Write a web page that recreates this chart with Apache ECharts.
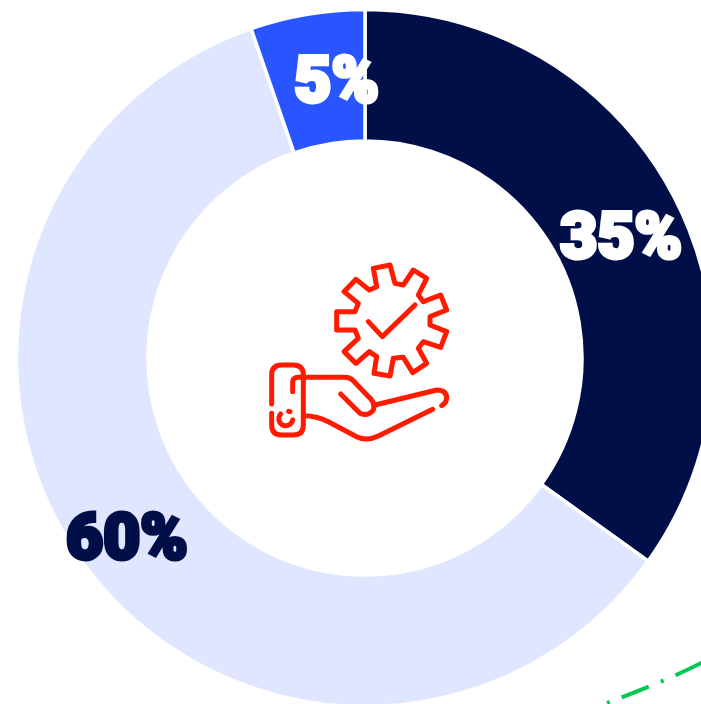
<!DOCTYPE html>
<html>
<head>
<meta charset="utf-8">
<style>
  html, body { margin: 0; padding: 0; background: #fff; }
  #chart { width: 701px; height: 704px; }
</style>
<script src="https://cdn.jsdelivr.net/npm/echarts@6/dist/echarts.min.js"></script>
</head>
<body>
<div id="chart"></div>
<script>
const categories = ['A', 'B', 'C'];
const values = [34.9, 59.8, 5.3];
const labels = ['35%', '60%', '5%'];
const sliceColors = ['#000F47', '#E0E6FF', '#2855FF'];
const labelColors = ['#FFFFFF', '#000F47', '#FFFFFF'];
const labelOffsets = [[2, 15], [-9, 14], [19, 10]];

// icon outlines, traced in a 3x space and scaled down by the group below
const gearPath = 'M370,55 L420,45 L435,100 L460,105 L490,60 L530,85 L505,135 L520,155 L572,135 L590,180 L540,200 L540,225 L590,245 L572,292 L520,275 L505,295 L530,340 L488,368 L460,322 L430,325 L420,378 L372,370 L380,320 L358,305 L318,340 L282,305 L325,265 L315,240 L260,240 L260,185 L315,185 L325,160 L282,125 L318,88 L358,120 L380,110 Z';
const checkPath = 'M355,215 L397,260 L495,165';
const cuffPath = 'M65,462 L65,375 Q65,345 95,345 L130,345 Q160,345 160,375 L160,525 Q160,555 130,555 L95,555 Q65,555 65,525 L65,490';
const buttonPath = 'M128,510 A21,21 0 1 1 92,492 M116,484 L120,485';
const palmPath = 'M128,425 L128,397 Q128,382 145,382 L285,382 Q300,382 310,392 L365,450 Q375,465 370,480 Q355,500 330,490 L272,432';
const fingerPath = 'M375,465 L560,420 Q590,420 590,445 Q588,460 575,467';
const lowerPath = 'M160,497 Q200,497 235,515 L320,560 Q350,575 385,558 L548,478';
const iconPaths = [gearPath, checkPath, cuffPath, buttonPath, palmPath, fingerPath, lowerPath];

// graphic has no plain 'path' element, so register each outline as a shape
iconPaths.forEach((p, i) => {
  echarts.graphic.registerShape('iconPart' + i, echarts.graphic.extendPath(p, {}));
});

const chart = echarts.init(document.getElementById('chart'));

chart.setOption({
  animation: false,
  series: [
    {
      type: 'pie',
      center: [365, 358],
      radius: [217, 348.5],
      startAngle: 90,
      clockwise: true,
      silent: true,
      itemStyle: { borderColor: '#fff', borderWidth: 3.5 },
      labelLine: { show: false },
      data: categories.map((name, i) => ({
        name: name,
        value: values[i],
        itemStyle: { color: sliceColors[i] },
        label: {
          show: true,
          position: 'inside',
          formatter: labels[i],
          fontFamily: 'Roboto',
          fontWeight: 900,
          fontSize: 64,
          color: labelColors[i],
          textBorderColor: labelColors[i],
          textBorderWidth: 4,
          offset: labelOffsets[i]
        }
      }))
    }
  ],
  graphic: [
    {
      type: 'group',
      x: 250,
      y: 250,
      scaleX: 1 / 3,
      scaleY: 1 / 3,
      children: iconPaths.map((p, i) => ({
        type: 'iconPart' + i,
        style: { fill: null, stroke: '#FF1A00', lineWidth: 15, lineCap: 'round', lineJoin: 'round' }
      }))
    },
    {
      type: 'bezierCurve',
      shape: { x1: 607, y1: 703, cpx1: 638, cpy1: 691, cpx2: 670, cpy2: 679, x2: 703, y2: 662 },
      style: { fill: null, stroke: '#00C853', lineWidth: 4, lineDash: [3, 13, 29, 13] }
    }
  ]
});
</script>
</body>
</html>
